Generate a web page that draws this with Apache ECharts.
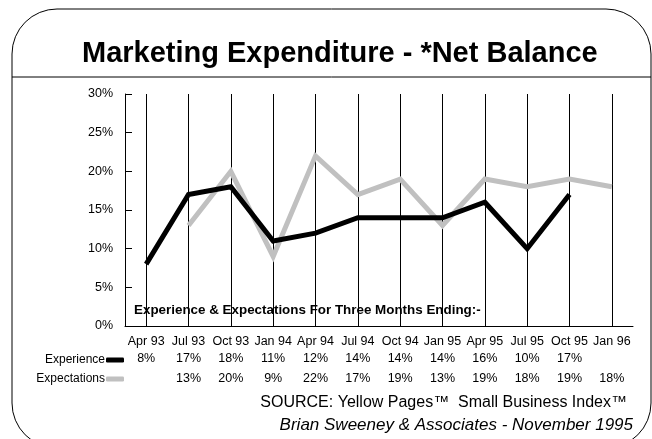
<!DOCTYPE html>
<html>
<head>
<meta charset="utf-8">
<script src="https://cdn.jsdelivr.net/npm/echarts@6/dist/echarts.min.js"></script>
<style>
  html, body { margin: 0; padding: 0; background: #fff; }
  #chart { width: 652px; height: 439px; }
</style>
</head>
<body>
<div id="chart"></div>
<script>
// Quarter labels (three months ending)
const quarters = ['Apr 93', 'Jul 93', 'Oct 93', 'Jan 94', 'Apr 94', 'Jul 94',
                  'Oct 94', 'Jan 95', 'Apr 95', 'Jul 95', 'Oct 95', 'Jan 96'];
// Net balance, percent
const experience   = [8, 17, 18, 11, 12, 14, 14, 14, 16, 10, 17, null];
const expectations = [null, 13, 20, 9, 22, 17, 19, 13, 19, 18, 19, 18];
// Y axis scale
const yMin = 0, yMax = 30, yStep = 5;

const FONT = '"Liberation Sans", Arial, Helvetica, sans-serif';
const pct = v => (v == null ? '' : v + '%');

const chart = echarts.init(document.getElementById('chart'), null, { renderer: 'canvas' });

const gridTop = 94, gridBottom = 113, gridLeft = 125, gridRight = 19;
const plotHeight = 439 - gridTop - gridBottom;

// Value rows under the category axis, one per series
const rowAxis = (values, offset) => ({
  type: 'category',
  data: values.map(pct),
  position: 'bottom',
  offset: offset,
  boundaryGap: true,
  axisLine: { show: false },
  axisTick: { show: false },
  splitLine: { show: false },
  axisLabel: { interval: 0, color: '#000', fontFamily: FONT, fontSize: 12.5, margin: 8 }
});

const legendBase = {
  right: 528,
  align: 'right',
  itemWidth: 18, itemHeight: 5,
  icon: 'roundRect',
  padding: 0,
  textStyle: { fontFamily: FONT, fontSize: 12, color: '#000', padding: [0, -4, 0, 0] }
};

chart.setOption({
  backgroundColor: '#fff',
  animation: false,
  title: {
    text: 'Marketing Expenditure - *Net Balance',
    left: 77,
    top: 34,
    textStyle: { fontFamily: FONT, fontWeight: 'bold', fontSize: 29, color: '#000' }
  },
  legend: [
    Object.assign({ data: ['Experience'], top: 354 }, legendBase),
    Object.assign({ data: ['Expectations'], top: 373 }, legendBase)
  ],
  grid: { left: gridLeft, right: gridRight, top: gridTop, bottom: gridBottom },
  xAxis: [
    {
      type: 'category',
      data: quarters,
      boundaryGap: true,
      axisLine: { show: true, lineStyle: { color: '#000', width: 1 } },
      // vertical reference lines through each quarter
      axisTick: { show: true, inside: true, alignWithLabel: true, length: plotHeight,
                  lineStyle: { color: '#000', width: 1 } },
      splitLine: { show: false },
      axisLabel: { interval: 0, color: '#000', fontFamily: FONT, fontSize: 12.5, margin: 9 }
    },
    rowAxis(experience, 18),
    rowAxis(expectations, 38)
  ],
  yAxis: {
    type: 'value',
    min: yMin, max: yMax, interval: yStep,
    axisLine: { show: true, lineStyle: { color: '#000', width: 1 } },
    axisTick: { show: true, inside: true, length: 7, lineStyle: { color: '#000' } },
    splitLine: { show: false },
    axisLabel: { formatter: '{value}%', color: '#000', fontFamily: FONT, fontSize: 12.5, margin: 12 }
  },
  series: [
    {
      name: 'Expectations',
      type: 'line',
      data: expectations,
      xAxisIndex: 0,
      showSymbol: false,
      symbol: 'none',
      color: '#c0c0c0',
      lineStyle: { color: '#c0c0c0', width: 5, join: 'miter' },
      z: 2
    },
    {
      name: 'Experience',
      type: 'line',
      data: experience,
      xAxisIndex: 0,
      showSymbol: false,
      symbol: 'none',
      color: '#000',
      lineStyle: { color: '#000', width: 5, join: 'miter' },
      z: 3
    }
  ],
  graphic: [
    {
      type: 'rect',
      shape: { x: 12, y: 9, width: 639, height: 439, r: 45 },
      style: { fill: 'none', stroke: '#000', lineWidth: 1 },
      silent: true, z: 0
    },
    {
      type: 'line',
      shape: { x1: 12, y1: 77, x2: 651, y2: 77 },
      style: { stroke: '#000', lineWidth: 1 },
      silent: true
    },
    {
      type: 'text',
      left: 134, top: 304,
      style: { text: 'Experience & Expectations For Three Months Ending:-',
               font: 'bold 13.4px ' + FONT, fill: '#000' },
      z: 10
    },
    {
      type: 'text',
      right: 25, top: 395,
      style: { text: 'SOURCE: Yellow Pages\u2122  Small Business Index\u2122',
               font: '16px ' + FONT, fill: '#000', textAlign: 'right' }
    },
    {
      type: 'text',
      right: 19, top: 417,
      style: { text: 'Brian Sweeney & Associates - November 1995',
               font: 'italic 17px ' + FONT, fill: '#000', textAlign: 'right' }
    }
  ]
});
</script>
</body>
</html>
